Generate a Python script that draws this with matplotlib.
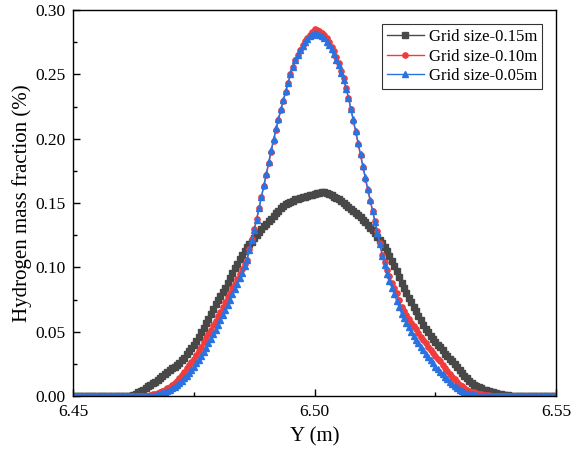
"""Hydrogen mass fraction along Y for three grid sizes."""

import numpy as np
import matplotlib
matplotlib.use("Agg")
import matplotlib.pyplot as plt
from matplotlib.ticker import MultipleLocator

plt.rcParams['font.family'] = ['Liberation Serif', 'DejaVu Serif']

# Sampling positions along Y (m), 0.0005 m apart
Y_POS = np.linspace(6.45, 6.55, 201)

# Grid size 0.15 m
FRAC_015 = [
    0, 0, 0, 0, 0, 0, 0, 0, 0, 0,
    0, 0, 0, 0, 0, 0, 0, 0, 0, 0,
    0, 0, 0, 0, 0, 0.001, 0.002, 0.003, 0.004, 0.005,
    0.006, 0.0075, 0.009, 0.010, 0.011, 0.0125, 0.014, 0.0155, 0.017, 0.0185,
    0.020, 0.0215, 0.023, 0.0245, 0.026, 0.028, 0.030, 0.0325, 0.035, 0.0375,
    0.040, 0.043, 0.046, 0.0495, 0.053, 0.0565, 0.060, 0.064, 0.068, 0.0715,
    0.075, 0.078, 0.081, 0.084, 0.088, 0.092, 0.096, 0.0995, 0.103, 0.1065,
    0.110, 0.113, 0.116, 0.118, 0.120, 0.1225, 0.125, 0.1275, 0.130, 0.132,
    0.134, 0.136, 0.138, 0.140, 0.142, 0.144, 0.146, 0.1475, 0.149, 0.150,
    0.151, 0.152, 0.153, 0.1535, 0.154, 0.1545, 0.155, 0.1555, 0.156, 0.1565,
    0.157, 0.1575, 0.158, 0.1585, 0.1585, 0.158, 0.157, 0.156, 0.155, 0.154,
    0.153, 0.1515, 0.150, 0.1485, 0.147, 0.1455, 0.144, 0.1425, 0.141, 0.139,
    0.137, 0.135, 0.133, 0.131, 0.129, 0.1265, 0.124, 0.1215, 0.119, 0.116,
    0.113, 0.109, 0.105, 0.101, 0.097, 0.0925, 0.088, 0.084, 0.080, 0.0765,
    0.073, 0.0695, 0.066, 0.0625, 0.059, 0.0555, 0.052, 0.0495, 0.047, 0.0445,
    0.042, 0.040, 0.038, 0.0355, 0.033, 0.031, 0.029, 0.027, 0.025, 0.0225,
    0.020, 0.018, 0.016, 0.014, 0.012, 0.0105, 0.009, 0.008, 0.007, 0.006,
    0.005, 0.0045, 0.004, 0.0035, 0.003, 0.0025, 0.002, 0.0015, 0.001, 0.0007,
    0.0005, 0.0003, 0, 0, 0, 0, 0, 0, 0, 0,
    0, 0, 0, 0, 0, 0, 0, 0, 0, 0,
    0,
]

# Grid size 0.10 m
FRAC_010 = [
    0, 0, 0, 0, 0, 0, 0, 0, 0, 0,
    0, 0, 0, 0, 0, 0, 0, 0, 0, 0,
    0, 0, 0, 0, 0, 0, 0, 0, 0, 0,
    0, 0, 0.001, 0.0015, 0.002, 0.0025, 0.003, 0.004, 0.005, 0.006,
    0.007, 0.0085, 0.010, 0.012, 0.014, 0.0165, 0.019, 0.0215, 0.024, 0.0265,
    0.029, 0.032, 0.035, 0.0385, 0.042, 0.045, 0.048, 0.0515, 0.055, 0.0585,
    0.062, 0.0655, 0.069, 0.073, 0.077, 0.0805, 0.084, 0.0875, 0.091, 0.095,
    0.099, 0.1025, 0.106, 0.114, 0.122, 0.130, 0.138, 0.1465, 0.155, 0.1635,
    0.172, 0.181, 0.190, 0.1985, 0.207, 0.2145, 0.222, 0.229, 0.236, 0.243,
    0.250, 0.2555, 0.261, 0.265, 0.269, 0.2725, 0.276, 0.2785, 0.281, 0.283,
    0.285, 0.2845, 0.284, 0.2825, 0.281, 0.278, 0.275, 0.2715, 0.268, 0.2635,
    0.259, 0.253, 0.247, 0.2395, 0.232, 0.223, 0.214, 0.205, 0.196, 0.187,
    0.178, 0.169, 0.160, 0.152, 0.144, 0.136, 0.128, 0.119, 0.110, 0.104,
    0.098, 0.093, 0.088, 0.084, 0.080, 0.0745, 0.069, 0.066, 0.063, 0.060,
    0.057, 0.0545, 0.052, 0.049, 0.046, 0.0435, 0.041, 0.0385, 0.036, 0.0335,
    0.031, 0.029, 0.027, 0.0245, 0.022, 0.0195, 0.017, 0.015, 0.013, 0.011,
    0.009, 0.0075, 0.006, 0.005, 0.004, 0.0035, 0.003, 0.0025, 0.002, 0.0015,
    0.001, 0.0007, 0.0005, 0, 0, 0, 0, 0, 0, 0,
    0, 0, 0, 0, 0, 0, 0, 0, 0, 0,
    0, 0, 0, 0, 0, 0, 0, 0, 0, 0,
    0,
]

# Grid size 0.05 m
FRAC_005 = [
    0, 0, 0, 0, 0, 0, 0, 0, 0, 0,
    0, 0, 0, 0, 0, 0, 0, 0, 0, 0,
    0, 0, 0, 0, 0, 0, 0, 0, 0, 0,
    0, 0, 0, 0, 0.001, 0.0015, 0.002, 0.0025, 0.003, 0.004,
    0.005, 0.006, 0.007, 0.0085, 0.010, 0.012, 0.014, 0.016, 0.018, 0.0205,
    0.023, 0.0255, 0.028, 0.031, 0.034, 0.0375, 0.041, 0.0445, 0.048, 0.0515,
    0.055, 0.059, 0.063, 0.067, 0.071, 0.075, 0.079, 0.083, 0.087, 0.0915,
    0.096, 0.101, 0.106, 0.1135, 0.121, 0.129, 0.137, 0.146, 0.155, 0.164,
    0.173, 0.182, 0.191, 0.1995, 0.208, 0.2155, 0.223, 0.230, 0.237, 0.2435,
    0.250, 0.2555, 0.261, 0.265, 0.269, 0.272, 0.275, 0.2775, 0.280, 0.281,
    0.282, 0.2815, 0.281, 0.2795, 0.278, 0.2755, 0.273, 0.2695, 0.266, 0.2615,
    0.257, 0.2515, 0.246, 0.239, 0.232, 0.2235, 0.215, 0.206, 0.197, 0.188,
    0.179, 0.170, 0.161, 0.1525, 0.144, 0.1355, 0.127, 0.118, 0.109, 0.102,
    0.095, 0.0895, 0.084, 0.079, 0.074, 0.069, 0.064, 0.0605, 0.057, 0.0535,
    0.050, 0.047, 0.044, 0.041, 0.038, 0.0355, 0.033, 0.0305, 0.028, 0.0255,
    0.023, 0.021, 0.019, 0.017, 0.015, 0.013, 0.011, 0.0095, 0.008, 0.0065,
    0.005, 0.004, 0.003, 0.0025, 0.002, 0.0015, 0.001, 0.0005, 0, 0,
    0, 0, 0, 0, 0, 0, 0, 0, 0, 0,
    0, 0, 0, 0, 0, 0, 0, 0, 0, 0,
    0, 0, 0, 0, 0, 0, 0, 0, 0, 0,
    0,
]

LABELS = ['Grid size-0.15m', 'Grid size-0.10m', 'Grid size-0.05m']
COLORS = ['#484848', '#f03c3c', '#2a72e0']
MARKERS = ['s', 'o', '^']
MSIZES = [4.2, 3.8, 3.8]

fig = plt.figure(figsize=(5.71, 4.59), dpi=100)
ax = fig.add_axes([0.128, 0.137, 0.846, 0.841])

for frac, label, color, marker, ms in zip([FRAC_015, FRAC_010, FRAC_005],
                                          LABELS, COLORS, MARKERS, MSIZES):
    ax.plot(Y_POS, frac, color=color, marker=marker, markersize=ms,
            linewidth=1.0, label=label)

ax.set_xlim(6.45, 6.55)
ax.set_ylim(0, 0.30)
ax.xaxis.set_major_locator(MultipleLocator(0.05))
ax.xaxis.set_minor_locator(MultipleLocator(0.025))
ax.yaxis.set_major_locator(MultipleLocator(0.05))
ax.yaxis.set_minor_locator(MultipleLocator(0.025))
ax.xaxis.set_major_formatter(plt.FormatStrFormatter('%.2f'))
ax.yaxis.set_major_formatter(plt.FormatStrFormatter('%.2f'))
ax.tick_params(which='major', direction='in', length=5, width=1, labelsize=12.5)
ax.tick_params(which='minor', direction='in', length=3, width=1)
ax.tick_params(axis='x', pad=6)
ax.tick_params(axis='y', pad=5.5)
for spine in ax.spines.values():
    spine.set_linewidth(1.0)

ax.set_xlabel('Y (m)', fontsize=15, labelpad=5)
ax.set_ylabel('Hydrogen mass fraction (%)', fontsize=15, labelpad=2)

leg = ax.legend(loc='upper right', bbox_to_anchor=(0.971, 0.964), fontsize=12,
                frameon=True, fancybox=False, edgecolor='black', numpoints=1,
                handlelength=2.2, handletextpad=0.3, borderpad=0.3,
                labelspacing=0.22, borderaxespad=0)
leg.get_frame().set_linewidth(0.8)

fig.savefig('out.png', dpi=100)
